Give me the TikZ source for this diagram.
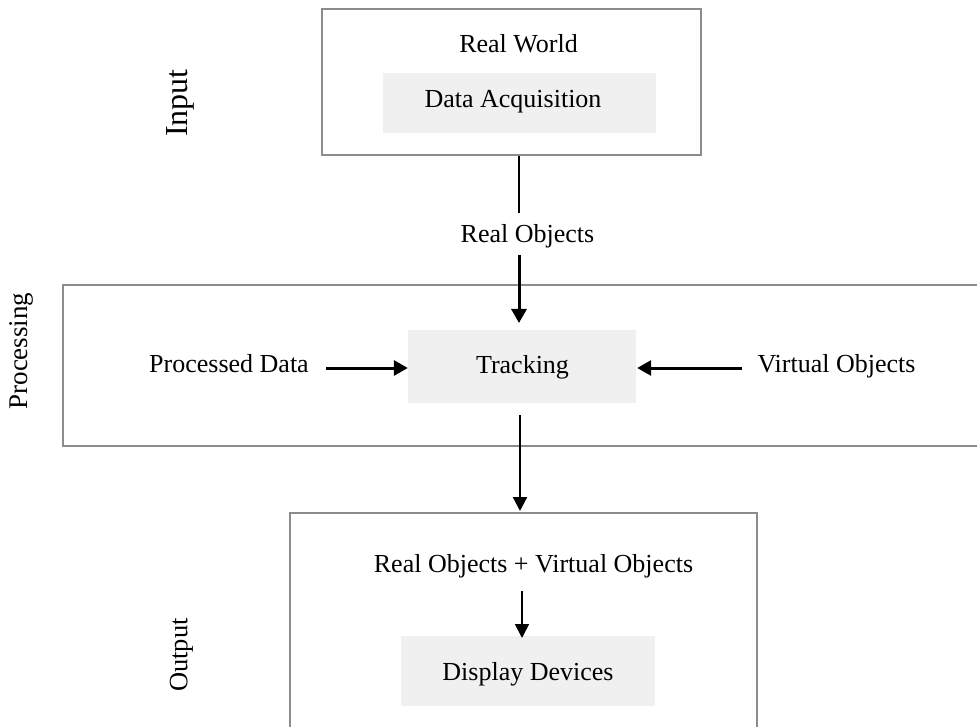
\documentclass[tikz,border=0pt]{standalone}
\usepackage{fontspec}
\setmainfont{Liberation Serif}
\usetikzlibrary{arrows.meta}
\definecolor{boxgray}{RGB}{140,140,140}
\definecolor{fillgray}{RGB}{240,240,240}
\begin{document}
\begin{tikzpicture}[x=1pt,y=-1pt,
  frame/.style={draw=boxgray, line width=1.5pt, inner sep=0pt},
  graybox/.style={fill=fillgray, draw=none, inner sep=0pt},
  txt/.style={inner sep=0pt, anchor=base, font=\fontsize{26}{31}\selectfont},
  side/.style={inner sep=0pt, rotate=90},
  conn/.style={line width=1.8pt, black},
  arr/.style={line width=1.8pt, black, -{Triangle[length=14pt,width=14pt]}},
  thickarr/.style={line width=3pt, black, -{Triangle[length=14pt,width=15pt]}}]
\useasboundingbox (0,0) rectangle (977,727);
\clip (0,0) rectangle (977,727);
\fill[white] (0,0) rectangle (977,727);

% frames
\node[frame, minimum width=379pt, minimum height=146pt] (inbox) at (511.5,82) {};
\node[frame, minimum width=937pt, minimum height=161pt] (procbox) at (531.5,365.5) {};
\node[frame, minimum width=467pt, minimum height=240pt] (outbox) at (523.5,633) {};

% gray boxes
\node[graybox, minimum width=273pt, minimum height=60pt] (acqbox) at (519.5,103) {};
\node[graybox, minimum width=228pt, minimum height=73pt] (track) at (522,366.5) {};
\node[graybox, minimum width=254pt, minimum height=70pt] (disp) at (528,671) {};

% texts
\node[txt] (realworld) at (518.5,53) {Real World};
\node[txt] (acqtxt) at (513,108) {Data Acquisition};
\node[txt] (realobj) at (527.5,243) {Real Objects};
\node[txt] (trtxt) at (522.5,373) {Tracking};
\node[txt] (pd) at (229,372) {Processed Data};
\node[txt] (vo) at (836.5,372) {Virtual Objects};
\node[txt] (rovo) at (533.5,572) {Real Objects + Virtual Objects};
\node[txt] (disptxt) at (528,680) {Display Devices};

% side labels
\node[side, font=\fontsize{32}{36}\selectfont] (inlab) at (180,103) {Input};
\node[side, font=\fontsize{27}{31}\selectfont] (proclab) at (21.5,351) {Processing};
\node[side, font=\fontsize{26.5}{31}\selectfont] (outlab) at (181.5,655) {Output};

% connectors
\coordinate (c1) at (519,213);
\coordinate (c2) at (519,255);
\coordinate (c3) at (519,323);
\coordinate (pdstart) at (326,368);
\coordinate (vostart) at (742,368);
\coordinate (c4) at (520,415);
\coordinate (c5) at (520,511);
\coordinate (c6) at (522,591);
\coordinate (c7) at (522,638);

\draw[conn] (inbox.south -| c1) -- (c1);
\draw[thickarr] (c2) -- (c3);
\draw[thickarr] (pdstart) -- (track.west |- pdstart);
\draw[thickarr] (vostart) -- ([xshift=1pt]track.east |- vostart);
\draw[arr, line width=2.2pt] (c4) -- (c5);
\draw[arr] (c6) -- (c7);
\end{tikzpicture}
\end{document}
